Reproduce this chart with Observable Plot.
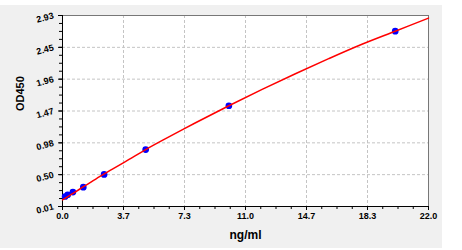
<!DOCTYPE html>
<html><head><meta charset="utf-8">
<script src="https://cdn.jsdelivr.net/npm/d3@7"></script>
<script src="https://cdn.jsdelivr.net/npm/@observablehq/plot@0.6"></script>
<style>
body{margin:0;background:#fff;}
#chart{position:absolute;left:0;top:5px;}
</style></head><body><div id="chart"></div>
<script>
// Standard points (concentration ng/ml, OD450)
const conc = [0.156, 0.3125, 0.625, 1.25, 2.5, 5, 10, 20];
const od = [0.163, 0.19, 0.23, 0.305, 0.50, 0.88, 1.55, 2.69];
// Fitted curve
const curveX = [0, 0.5, 1, 2, 3, 4, 5, 6, 8, 10, 12, 14, 16, 18, 20, 22];
const curveY = [0.11, 0.19, 0.27, 0.43, 0.58, 0.73, 0.88, 1.02, 1.29, 1.55, 1.80, 2.04, 2.27, 2.49, 2.69, 2.89];
// Tick values and labels
const xTicks = [0, 3.667, 7.333, 11, 14.667, 18.333, 22];
const xTickLabels = ["0.0", "3.7", "7.3", "11.0", "14.7", "18.3", "22.0"];
const yTicks = [0.01, 0.497, 0.983, 1.47, 1.957, 2.443, 2.93];
const yTickLabels = ["0.01", "0.50", "0.98", "1.47", "1.96", "2.45", "2.93"];
const xLabel = "ng/ml";
const yLabel = "OD450";

const pts = conc.map((c, i) => ({c, od: od[i]}));
const curve = curveX.map((x, i) => ({x, y: curveY[i]}));
const xMinor = d3.range(0, 25).map(i => i * 22 / 24);
const yMinor = d3.range(0, 25).map(i => 0.01 + i * 2.92 / 24);

const chart = Plot.plot({
  width: 442, height: 243,
  marginLeft: 62, marginRight: 14, marginTop: 10, marginBottom: 42,
  style: {background: "#f0f0f0", fontFamily: "'Liberation Sans', Arial, sans-serif", fontSize: "9px", fontWeight: "bold", color: "#000", overflow: "visible"},
  x: {domain: [0, 22]},
  y: {domain: [0.01, 2.93]},
  marks: [
    Plot.frame({fill: "white"}),
    Plot.gridX(xTicks, {stroke: "#c4c4c4", strokeOpacity: 1, strokeDasharray: "3,2"}),
    Plot.gridY(yTicks, {stroke: "#c4c4c4", strokeOpacity: 1, strokeDasharray: "3,2"}),
    Plot.frame({stroke: "#777"}),
    Plot.ruleX([0], {stroke: "#000"}),
    Plot.ruleY([0.01], {stroke: "#000"}),
    Plot.axisX(xMinor, {tickSize: 3, text: null, stroke: "#000"}),
    Plot.axisX(xTicks, {tickSize: 4, tickPadding: 2, stroke: "#000",
      tickFormat: d => xTickLabels[xTicks.indexOf(d)], fontWeight: "bold", fontSize: 9}),
    Plot.axisY(yMinor, {tickSize: 3, text: null, stroke: "#000"}),
    Plot.axisY(yTicks, {tickSize: 4, tickPadding: 5, stroke: "#000", tickRotate: -15,
      tickFormat: d => yTickLabels[yTicks.indexOf(d)], fontWeight: "bold", fontSize: 9}),
    Plot.dot(pts, {x: "c", y: "od", r: 2.6, fill: "#0000ff", stroke: "#0000ff"}),
    Plot.line(curve, {x: "x", y: "y", stroke: "#ff0000", strokeWidth: 1.5, curve: "catmull-rom"}),
    Plot.text([yLabel], {frameAnchor: "left", dx: -42, rotate: -90, fontSize: 11, fontWeight: "bold", fill: "#000"}),
    Plot.text([xLabel], {frameAnchor: "bottom", dy: 32, fontSize: 12, fontWeight: "bold", fill: "#000"})
  ]
});
document.getElementById("chart").appendChild(chart);
</script></body></html>
